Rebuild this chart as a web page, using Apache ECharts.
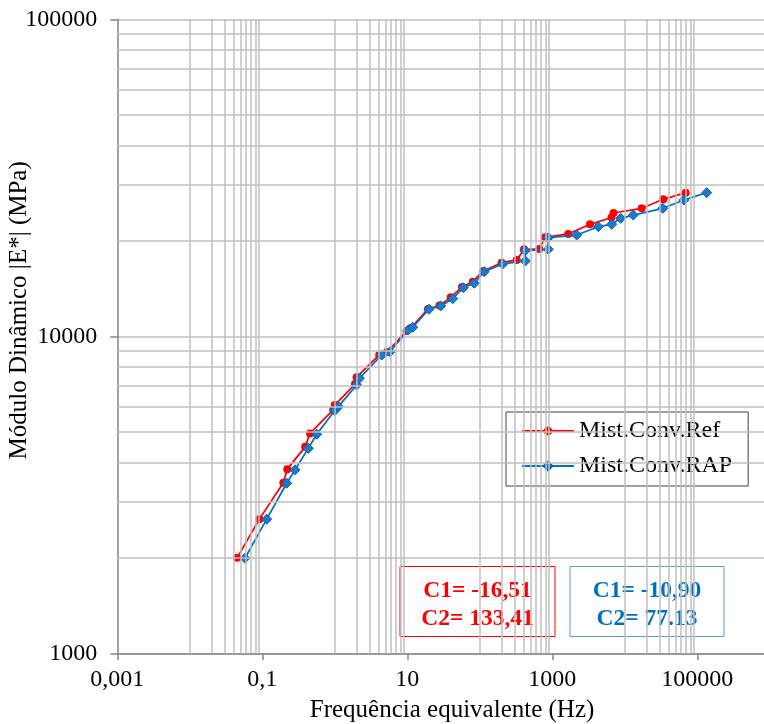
<!DOCTYPE html>
<html>
<head>
<meta charset="utf-8">
<script src="https://cdn.jsdelivr.net/npm/echarts@6/dist/echarts.min.js"></script>
<style>
  html, body { margin: 0; padding: 0; background: #ffffff; }
  #chart { width: 764px; height: 724px; }
</style>
</head>
<body>
<div id="chart"></div>
<script>
// Dynamic modulus master curves (reduced frequency in Hz, |E*| in MPa)
const refName = 'Mist.Conv.Ref';
const refFreq = [0.045, 0.091, 0.195, 0.221, 0.39, 0.455, 0.95, 1.0, 1.9, 2.0, 4.1, 5.25, 9.75, 11.2, 19.3, 27.8, 39.7, 56.8, 79.8, 112, 200, 323, 407, 662, 793, 1660, 3310, 6550, 6980, 17100, 33960, 69200];
const refModulus = [2000, 2650, 3450, 3810, 4480, 4940, 5860, 6070, 7070, 7430, 8730, 8920, 10390, 10620, 12200, 12510, 13270, 14300, 14870, 16070, 17070, 17410, 18810, 18860, 20530, 21030, 22560, 23700, 24490, 25340, 27050, 28380];

const rapName = 'Mist.Conv.RAP';
const rapFreq = [0.0577, 0.115, 0.217, 0.2825, 0.431, 0.563, 1.0, 1.12, 2.0, 2.18, 4.44, 5.77, 10.3, 11.9, 19.9, 28.9, 42.3, 59.2, 83.9, 115, 207, 425, 420, 881, 881, 2170, 4310, 6600, 8780, 13100, 33330, 65550, 134800];
const rapModulus = [1995, 2650, 3440, 3790, 4430, 4910, 5830, 6000, 7020, 7370, 8730, 8940, 10470, 10680, 12170, 12470, 13140, 14230, 14700, 15990, 16910, 17280, 18620, 18810, 20460, 20870, 22170, 22560, 23560, 24130, 25340, 26920, 28380];

// WLF constants shown in the boxes
const refConstants = ['C1= -16,51', 'C2= 133,41'];
const rapConstants = ['C1= -10,90', 'C2= 77.13'];

// Axis ticks and labels
const xTickValues = [0.001, 0.1, 10, 1000, 100000];
const xTickLabels = ['0,001', '0,1', '10', '1000', '100000'];
const yTickValues = [1000, 10000, 100000];
const yTickLabels = ['1000', '10000', '100000'];

// Minor grid positions
const xMinorGrid = [0.01, 0.02, 0.03, 0.04, 0.05, 0.06, 0.07, 0.08, 0.09,
  1, 2, 3, 4, 5, 6, 7, 8, 9,
  100, 200, 300, 400, 500, 600, 700, 800, 900,
  10000, 20000, 30000, 40000, 50000, 60000, 70000, 80000, 90000];
const yMinorGrid = [2000, 3000, 4000, 5000, 6000, 7000, 8000, 9000,
  20000, 30000, 40000, 50000, 60000, 70000, 80000, 90000];

const FONT = '"Liberation Serif", "Times New Roman", serif';
const GRID_COLOR = '#BFBFBF';
const AXIS_COLOR = '#868686';
const RED = '#FF0000';
const BLUE = '#0070C0';

function labelFor(values, labels, v) {
  for (let i = 0; i < values.length; i++) {
    if (Math.abs(Math.log10(v) - Math.log10(values[i])) < 1e-6) return labels[i];
  }
  return '';
}

const chart = echarts.init(document.getElementById('chart'), null, { renderer: 'canvas' });

chart.setOption({
  animation: false,
  backgroundColor: '#ffffff',
  grid: { left: 117.3, top: 19.3, width: 652.5, height: 634, outerBoundsMode: 'none', containLabel: false },
  xAxis: {
    type: 'log',
    logBase: 100,
    min: 0.001,
    max: 1000000,
    interval: 1,
    name: 'Frequência equivalente (Hz)',
    nameLocation: 'middle',
    nameGap: 45,
    nameMoveOverlap: false,
    nameTextStyle: { fontFamily: FONT, fontSize: 25, color: '#000', padding: [0, 0, 0, 17] },
    axisLine: { show: true, lineStyle: { color: AXIS_COLOR, width: 1.5 } },
    axisTick: { show: true, length: 7, lineStyle: { color: AXIS_COLOR, width: 1.5 } },
    axisLabel: {
      margin: 14, fontFamily: FONT, fontSize: 24, color: '#000',
      formatter: v => labelFor(xTickValues, xTickLabels, v)
    },
    splitLine: { show: false },
    minorTick: { show: false },
    minorSplitLine: { show: false }
  },
  yAxis: {
    type: 'log',
    logBase: 10,
    min: 1000,
    max: 100000,
    interval: 1,
    name: 'Módulo Dinâmico |E*| (MPa)',
    nameLocation: 'middle',
    nameGap: 85,
    nameMoveOverlap: false,
    nameTextStyle: { fontFamily: FONT, fontSize: 25, color: '#000', padding: [0, 0, 0, 52] },
    axisLine: { show: true, lineStyle: { color: AXIS_COLOR, width: 1.5 } },
    axisTick: { show: true, length: 7, lineStyle: { color: AXIS_COLOR, width: 1.5 } },
    axisLabel: {
      margin: 20, fontFamily: FONT, fontSize: 24, color: '#000',
      formatter: v => labelFor(yTickValues, yTickLabels, v)
    },
    splitLine: { show: true, lineStyle: { color: GRID_COLOR, width: 1.5 } },
    minorTick: { show: false },
    minorSplitLine: { show: false }
  },
  legend: {
    data: [refName, rapName],
    orient: 'vertical',
    left: 506,
    top: 412,
    padding: [7, 16, 8, 15],
    itemGap: 11,
    itemWidth: 52,
    itemHeight: 11,
    borderColor: '#404040',
    borderWidth: 1,
    borderRadius: 0,
    backgroundColor: '#ffffff',
    textStyle: { fontFamily: FONT, fontSize: 24, color: '#000' }
  },
  series: [
    {
      // gridlines between the labelled decades
      name: 'grid',
      type: 'line',
      data: [],
      z: 0,
      silent: true,
      markLine: {
        silent: true,
        symbol: 'none',
        animation: false,
        label: { show: false },
        lineStyle: { color: GRID_COLOR, width: 1.5, type: 'solid' },
        emphasis: { disabled: true },
        data: xMinorGrid.map(v => ({ xAxis: v })).concat(yMinorGrid.map(v => ({ yAxis: v })))
      }
    },
    {
      name: refName,
      type: 'line',
      z: 3,
      data: refFreq.map((f, i) => [f, refModulus[i]]),
      symbol: 'circle',
      symbolSize: 8,
      showAllSymbol: true,
      lineStyle: { color: RED, width: 1.75 },
      itemStyle: { color: RED }
    },
    {
      name: rapName,
      type: 'line',
      z: 4,
      data: rapFreq.map((f, i) => [f, rapModulus[i]]),
      symbol: 'diamond',
      symbolSize: 10,
      showAllSymbol: true,
      lineStyle: { color: BLUE, width: 1.75 },
      itemStyle: { color: '#1F78C8', borderColor: '#0066B3', borderWidth: 1 }
    }
  ],
  graphic: [
    {
      type: 'group', left: 399.5, top: 566,
      children: [
        { type: 'rect', shape: { x: 0, y: 0, width: 155, height: 70 },
          style: { fill: '#ffffff', stroke: RED, lineWidth: 1 } },
        { type: 'text', x: 77.5, y: 38,
          style: { text: refConstants.join('\n'), fontFamily: FONT, fontSize: 23.5, fontWeight: 'bold',
                   fill: RED, align: 'center', verticalAlign: 'middle', lineHeight: 28 } }
      ]
    },
    {
      type: 'group', left: 569.5, top: 566,
      children: [
        { type: 'rect', shape: { x: 0, y: 0, width: 154, height: 70 },
          style: { fill: '#ffffff', stroke: '#5B9BD5', lineWidth: 1 } },
        { type: 'text', x: 77, y: 38,
          style: { text: rapConstants.join('\n'), fontFamily: FONT, fontSize: 23.5, fontWeight: 'bold',
                   fill: BLUE, align: 'center', verticalAlign: 'middle', lineHeight: 28 } }
      ]
    }
  ]
});
</script>
</body>
</html>
